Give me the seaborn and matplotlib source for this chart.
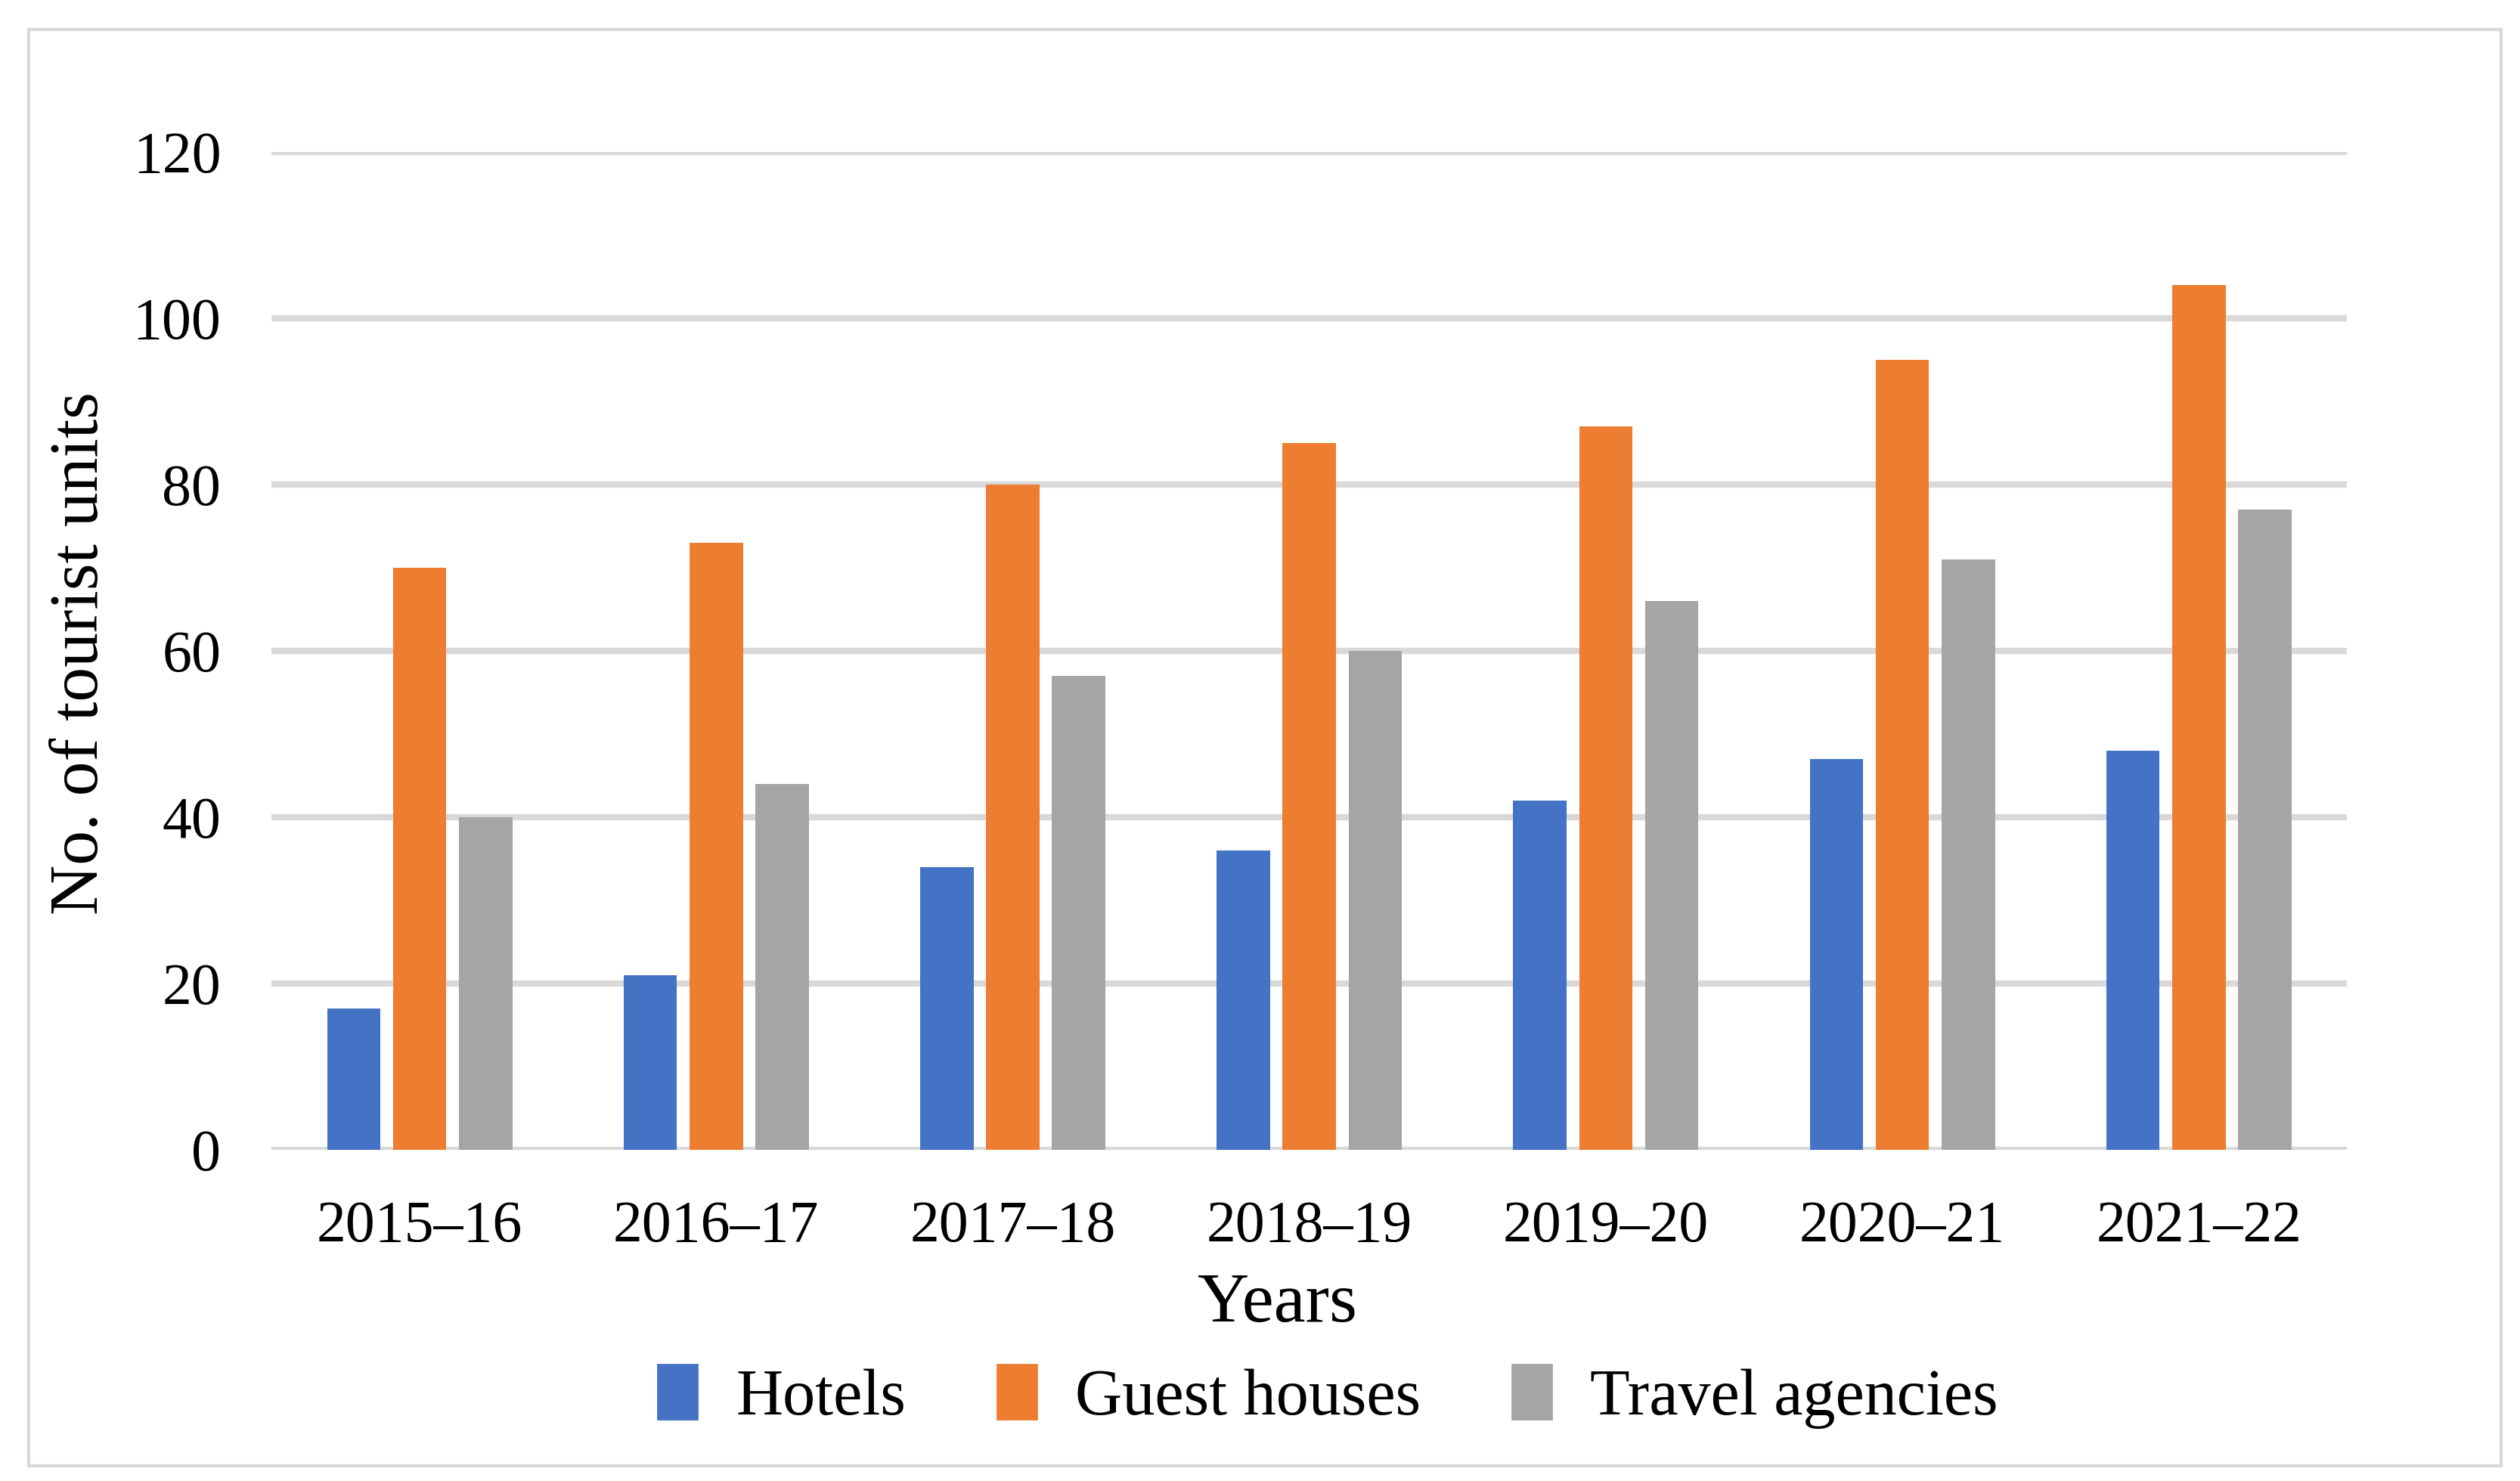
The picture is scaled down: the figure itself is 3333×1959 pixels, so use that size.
import pandas as pd
import seaborn as sns
import matplotlib.pyplot as plt
from matplotlib.patches import Rectangle

years = ['2015–16', '2016–17', '2017–18', '2018–19', '2019–20', '2020–21', '2021–22']
hotels = [17, 21, 34, 36, 42, 47, 48]
guest_houses = [70, 73, 80, 85, 87, 95, 104]
travel_agencies = [40, 44, 57, 60, 66, 71, 77]
series = ['Hotels', 'Guest houses', 'Travel agencies']
colors = ['#4472C4', '#ED7D31', '#A5A5A5']

df = pd.DataFrame({'Years': years * 3,
                   'units': hotels + guest_houses + travel_agencies,
                   'type': [s for s in series for _ in years]})

sns.set_theme(style='white')
plt.rcParams['font.family'] = ['Liberation Serif', 'DejaVu Serif']
plt.rcParams['text.color'] = 'black'
plt.rcParams['xtick.color'] = 'black'
plt.rcParams['ytick.color'] = 'black'

fig = plt.figure(figsize=(16.665, 9.795), dpi=200)
ax = fig.add_axes([0.1077, 0.2236, 0.8237, 0.6739])

sns.barplot(data=df, x='Years', y='units', hue='type', palette=colors,
            width=0.667, gap=0.19, saturation=1, linewidth=0, ax=ax, legend=False)

ax.set_ylim(0, 120)
ax.set_yticks(range(0, 121, 20))
ax.set_xlim(-0.5, 6.5)
ax.grid(axis='y', color='#D9D9D9', linewidth=3)
ax.set_axisbelow(True)
for s in ax.spines.values():
    s.set_visible(False)
ax.tick_params(axis='x', length=0, pad=24, labelsize=28)
ax.tick_params(axis='y', length=0, pad=24, labelsize=28)
ax.set_xlabel('')
ax.set_ylabel('')

fig.text(0.507, 0.119, 'Years', ha='center', va='center', fontsize=34)
fig.text(0.032, 0.559, 'No. of tourist units', ha='center', va='center',
         rotation=90, fontsize=33)

handles = [Rectangle((0, 0), 1, 1, color=c) for c in colors]
fig.legend(handles, series, loc='center', bbox_to_anchor=(0.527, 0.057), ncol=3,
           frameon=False, fontsize=31, handlelength=0.6, handleheight=0.9,
           columnspacing=1.4, handletextpad=0.6)

fig.patches.append(Rectangle((0.0115, 0.01), 0.981, 0.97, transform=fig.transFigure,
                             fill=False, edgecolor='#D9D9D9', linewidth=1.5))

fig.savefig('out.png', dpi=200, facecolor='white')
